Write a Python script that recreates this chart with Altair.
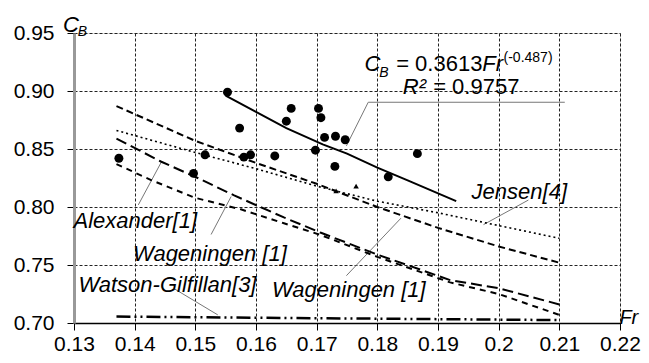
import altair as alt
import pandas as pd

# ---------------- data ----------------
pts_fr = [0.1374, 0.1497, 0.1516, 0.1553, 0.1573, 0.1580, 0.1591, 0.1631, 0.1650,
          0.1658, 0.1698, 0.1703, 0.1707, 0.1713, 0.1730, 0.1731, 0.1747, 0.1818, 0.1866]
pts_cb = [0.842, 0.829, 0.845, 0.899, 0.868, 0.843, 0.845, 0.844, 0.874,
          0.885, 0.849, 0.885, 0.877, 0.860, 0.835, 0.861, 0.858, 0.826, 0.846]
small_fr = [0.1732, 0.1765]
small_cb = [0.814, 0.818]

trend_fr = [0.155, 0.160, 0.165, 0.171, 0.175, 0.180, 0.185, 0.193]
trend_cb = [0.896, 0.882, 0.868, 0.854, 0.846, 0.834, 0.823, 0.805]

wag_up_fr = [0.137, 0.150, 0.160, 0.170, 0.180, 0.190, 0.200, 0.210]
wag_up_cb = [0.887, 0.857, 0.838, 0.820, 0.800, 0.782, 0.766, 0.752]

jensen_fr = [0.137, 0.150, 0.160, 0.170, 0.180, 0.190, 0.200, 0.210]
jensen_cb = [0.866, 0.847, 0.833, 0.818, 0.805, 0.795, 0.784, 0.773]

alex_fr = [0.137, 0.1444, 0.1504, 0.1564, 0.1646, 0.1706, 0.180, 0.192, 0.200, 0.210]
alex_cb = [0.859, 0.839, 0.825, 0.810, 0.791, 0.778, 0.759, 0.737, 0.730, 0.716]

wag_lo_fr = [0.137, 0.1428, 0.1499, 0.1575, 0.1646, 0.1706, 0.180, 0.192, 0.200, 0.210]
wag_lo_cb = [0.837, 0.823, 0.808, 0.798, 0.786, 0.776, 0.757, 0.735, 0.725, 0.707]

watson_fr = [0.137, 0.210]
watson_cb = [0.7055, 0.7025]

x_ticks = [0.13, 0.14, 0.15, 0.16, 0.17, 0.18, 0.19, 0.2, 0.21, 0.22]
y_ticks = [0.70, 0.75, 0.80, 0.85, 0.90, 0.95]

# annotation texts and their anchor (data units)
lab_text = ["Jensen[4]", "Alexander[1]", "Wageningen [1]", "Watson-Gilfillan[3]", "Wageningen [1]"]
lab_fr = [0.2034, 0.1401, 0.1524, 0.1454, 0.1753]
lab_cb = [0.8126, 0.7879, 0.7597, 0.7324, 0.7282]

# leader lines: (id, fr, cb)
lead_id = [0, 0, 0, 1, 1, 2, 2, 3, 3, 4, 4, 5, 5]
lead_fr = [0.2109, 0.1785, 0.1749, 0.2049, 0.1975, 0.1444, 0.1406,
           0.1559, 0.1526, 0.1839, 0.1749, 0.1466, 0.1537]
lead_cb = [0.8903, 0.8903, 0.8527, 0.8060, 0.7848, 0.8388, 0.8018,
           0.8090, 0.7763, 0.7904, 0.7408, 0.7293, 0.7070]

# rich text pieces: text, fr, cb, size, italic
rich_text = ["C", "B", "= 0.3613", "Fr", "(-0.487)", "R²", "= 0.9757", "C", "B", "Fr"]
rich_fr = [0.1779, 0.1803, 0.1831, 0.1973, 0.2008, 0.1842, 0.1892, 0.1282, 0.1306, 0.2199]
rich_cb = [0.9176, 0.9125, 0.9176, 0.9176, 0.9253, 0.8971, 0.8971, 0.9509, 0.9474, 0.6995]
rich_size = [22, 14, 22, 22, 14, 22, 22, 22, 14, 20]
rich_style = ["italic", "italic", "normal", "italic", "normal", "italic", "normal", "italic", "italic", "italic"]

FONT = "Liberation Sans"

xs = alt.Scale(domain=[0.13, 0.22], nice=False, zero=False)
ys = alt.Scale(domain=[0.70, 0.95], nice=False, zero=False)


def line(frs, cbs, dash, width, color="black"):
    df = pd.DataFrame({"Fr": frs, "CB": cbs})
    kw = dict(color=color, strokeWidth=width)
    if dash:
        kw["strokeDash"] = dash
    return alt.Chart(df).mark_line(**kw).encode(
        x=alt.X("Fr:Q", scale=xs), y=alt.Y("CB:Q", scale=ys))


base_axes = alt.Chart(pd.DataFrame({"Fr": [0.13], "CB": [0.70]})).mark_point(opacity=0).encode(
    x=alt.X("Fr:Q", scale=xs, title=None,
            axis=alt.Axis(values=x_ticks, format="~g", grid=True, gridDash=[3, 2],
                          gridColor="#222", gridWidth=1, domainColor="black", domainWidth=1.5,
                          tickColor="black", tickSize=7, labelPadding=3, labelFontSize=21,
                          labelFont=FONT, labelColor="black", labelFlush=False)),
    y=alt.Y("CB:Q", scale=ys, title=None,
            axis=alt.Axis(values=y_ticks, format=".2f", grid=True, gridDash=[3, 2],
                          gridColor="#222", gridWidth=1, domainColor="#999", domainWidth=3,
                          tickColor="black", tickSize=7, labelPadding=13, labelFontSize=21,
                          labelFont=FONT, labelColor="black", labelFlush=False)),
)

lead_df = pd.DataFrame({"id": lead_id, "Fr": lead_fr, "CB": lead_cb}).reset_index()
leaders = alt.Chart(lead_df).mark_line(color="#777", strokeWidth=1).encode(
    x=alt.X("Fr:Q", scale=xs), y=alt.Y("CB:Q", scale=ys), detail="id:N", order="index:Q")

pts = alt.Chart(pd.DataFrame({"Fr": pts_fr, "CB": pts_cb})).mark_circle(
    size=80, color="black", opacity=1).encode(x=alt.X("Fr:Q", scale=xs), y=alt.Y("CB:Q", scale=ys))
small = alt.Chart(pd.DataFrame({"Fr": small_fr, "CB": small_cb})).mark_point(
    shape="triangle-up", size=30, filled=True, color="black", opacity=1).encode(
    x=alt.X("Fr:Q", scale=xs), y=alt.Y("CB:Q", scale=ys))

labels = alt.Chart(pd.DataFrame({"t": lab_text, "Fr": lab_fr, "CB": lab_cb})).mark_text(
    font=FONT, fontSize=22, fontStyle="italic", align="center", baseline="middle", color="black").encode(
    x=alt.X("Fr:Q", scale=xs), y=alt.Y("CB:Q", scale=ys), text="t:N")

rich_layers = []
for t, f, c, s, st in zip(rich_text, rich_fr, rich_cb, rich_size, rich_style):
    rich_layers.append(
        alt.Chart(pd.DataFrame({"t": [t], "Fr": [f], "CB": [c]})).mark_text(
            font=FONT, fontSize=s, fontStyle=st, align="left", baseline="alphabetic", color="black").encode(
            x=alt.X("Fr:Q", scale=xs), y=alt.Y("CB:Q", scale=ys), text="t:N"))

chart = alt.layer(
    base_axes,
    leaders,
    line(watson_fr, watson_cb, [14, 4, 2, 4, 2, 4], 2.5),
    line(wag_lo_fr, wag_lo_cb, [6, 5], 2),
    line(alex_fr, alex_cb, [11, 5], 2),
    line(jensen_fr, jensen_cb, [2, 3], 1.6),
    line(wag_up_fr, wag_up_cb, [7, 4], 2),
    line(trend_fr, trend_cb, None, 2),
    pts,
    small,
    labels,
    *rich_layers,
).properties(
    width=546, height=290, autosize="none",
    padding={"left": 66, "top": 25, "right": 21, "bottom": 32},
).configure_view(stroke=None).configure(background="white")

chart.save("out.html", embed_options={"renderer": "svg", "actions": False})
